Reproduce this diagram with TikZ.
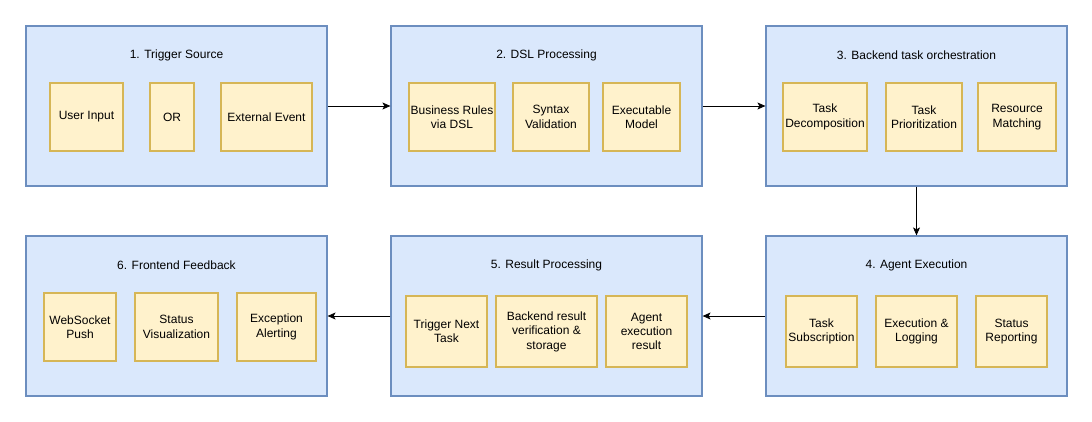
\documentclass[tikz,border=0pt]{standalone}
\usepackage{fontspec}
\setmainfont{Liberation Sans}
\usetikzlibrary{arrows.meta}
\definecolor{bluefill}{HTML}{DAE8FC}
\definecolor{bluedraw}{HTML}{6C8EBF}
\definecolor{yelfill}{HTML}{FFF2CC}
\definecolor{yeldraw}{HTML}{D6B656}
\begin{document}
\begin{tikzpicture}[x=1pt,y=-1pt,
  container/.style={draw=bluedraw,fill=bluefill,line width=1.2pt,minimum height=160pt,inner sep=0pt},
  item/.style={draw=yeldraw,fill=yelfill,line width=1.2pt,inner sep=0pt,align=center,font=\fontsize{12}{14.4}\selectfont},
  ttl/.style={inner sep=0pt,font=\fontsize{12}{14.4}\selectfont},
  conn/.style={line width=0.8pt,-{Stealth[length=8pt,width=7pt,inset=2pt]}}]
\useasboundingbox (0,0) rectangle (1092,422);
% containers
\node[container,minimum width=301pt] (c1) at (176.5,106) {};
\node[container,minimum width=311pt] (c2) at (546.5,106) {};
\node[container,minimum width=301pt] (c3) at (916.5,106) {};
\node[container,minimum width=301pt] (c4) at (916.5,316) {};
\node[container,minimum width=311pt] (c5) at (546.5,316) {};
\node[container,minimum width=301pt] (c6) at (176.5,316) {};
% titles
\node[ttl] (t1) at (176.5,55) {1. Trigger Source};
\node[ttl] (t2) at (546.5,55) {2. DSL Processing};
\node[ttl] (t3) at (916.5,55) {3. Backend task orchestration};
\node[ttl] (t4) at (916.5,265) {4. Agent Execution};
\node[ttl] (t5) at (546.5,265) {5. Result Processing};
\node[ttl] (t6) at (176.5,265) {6. Frontend Feedback};
% row 1
\node[item,minimum width=73pt,minimum height=68pt] (ui) at (86.5,117) {User Input};
\node[item,minimum width=44pt,minimum height=68pt] (or) at (172,117) {OR};
\node[item,minimum width=91pt,minimum height=68pt] (ee) at (266.5,117) {External Event};
\node[item,minimum width=86pt,minimum height=68pt] (br) at (452,117) {Business Rules\\via DSL};
\node[item,minimum width=76pt,minimum height=68pt] (sv) at (551,117) {Syntax\\Validation};
\node[item,minimum width=77pt,minimum height=68pt] (em) at (641.5,117) {Executable\\Model};
\node[item,minimum width=84pt,minimum height=68pt] (td) at (825,117) {Task\\Decomposition};
\node[item,minimum width=76pt,minimum height=68pt] (tp) at (924,117) {Task\\Prioritization};
\node[item,minimum width=78pt,minimum height=68pt] (rm) at (1017,117) {Resource\\Matching};
% row 2
\node[item,minimum width=71pt,minimum height=71pt] (ts) at (821.5,331.5) {Task\\Subscription};
\node[item,minimum width=81pt,minimum height=71pt] (el) at (916.5,331.5) {Execution \&\\Logging};
\node[item,minimum width=71pt,minimum height=71pt] (sr) at (1011.5,331.5) {Status\\Reporting};
\node[item,minimum width=81pt,minimum height=71pt] (tn) at (446.5,331.5) {Trigger Next\\Task};
\node[item,minimum width=101pt,minimum height=71pt] (bv) at (546.5,331.5) {Backend result\\verification \&\\storage};
\node[item,minimum width=81pt,minimum height=71pt] (ae) at (646.5,331.5) {Agent\\execution\\result};
\node[item,minimum width=72pt,minimum height=68pt] (wp) at (80,327) {WebSocket\\Push};
\node[item,minimum width=83pt,minimum height=68pt] (svz) at (176.5,327) {Status\\Visualization};
\node[item,minimum width=79pt,minimum height=68pt] (ea) at (276.5,327) {Exception\\Alerting};
% connectors
\draw[conn] (c1.east) -- (c2.west);
\draw[conn] (c2.east) -- (c3.west);
\draw[conn] (c3.south) -- (c4.north);
\draw[conn] (c4.west) -- (c5.east);
\draw[conn] (c5.west) -- (c6.east);
\end{tikzpicture}
\end{document}
